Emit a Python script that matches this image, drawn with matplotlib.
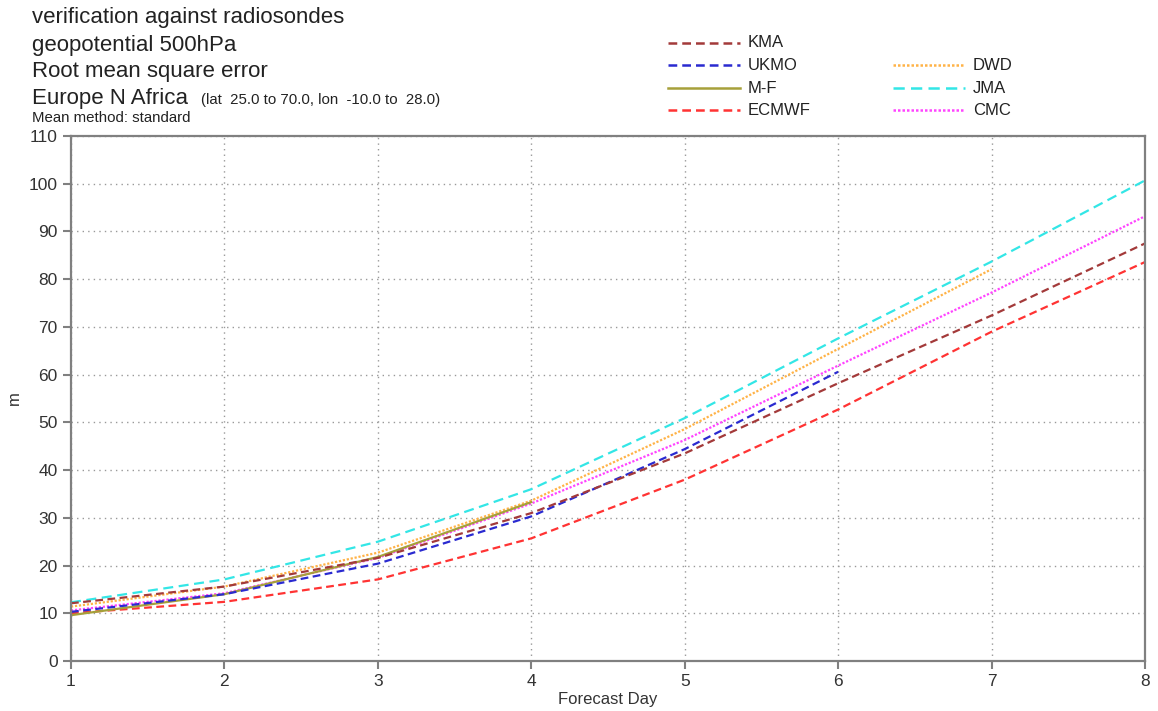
import matplotlib
matplotlib.use('Agg')
import matplotlib.pyplot as plt
from matplotlib.lines import Line2D

# forecast days
days = [1, 2, 3, 4, 5, 6, 7, 8]

# RMSE of 500hPa geopotential (m)
kma = [12.1, 15.6, 21.6, 31.0, 43.5, 58.2, 72.4, 87.5]
ukmo = [10.3, 14.0, 20.4, 30.3, 44.4, 60.6]
mf = [9.6, 14.0, 21.8, 33.3]
ecmwf = [10.0, 12.4, 17.1, 25.7, 38.0, 52.7, 69.0, 83.6]
dwd = [11.4, 15.6, 22.7, 33.6, 48.6, 65.4, 82.1]
jma = [12.3, 17.1, 25.0, 36.0, 50.9, 67.6, 83.7, 100.7]
cmc = [10.6, 14.2, 21.6, 33.0, 46.3, 61.9, 77.2, 93.2]

series = [
    ('KMA', kma, '#a33a3a', (0, (3.5, 2))),
    ('UKMO', ukmo, '#2a2ad0', (0, (3.5, 2))),
    ('M-F', mf, '#a6a03a', '-'),
    ('ECMWF', ecmwf, '#ff3333', (0, (3.5, 2))),
    ('DWD', dwd, '#ffb347', (0, (1, 0.8))),
    ('JMA', jma, '#33e6e6', (0, (4.5, 2.5))),
    ('CMC', cmc, '#ff44ff', (0, (1, 0.8))),
]

plt.rcParams.update({
    'font.family': ['Liberation Sans', 'DejaVu Sans'],
    'font.size': 12,
})

fig = plt.figure(figsize=(11.58, 7.11), dpi=100)
ax = fig.add_axes([0.0613, 0.0703, 0.9275, 0.7384])

# draw in reverse so that KMA ends up on top like the reference
for name, vals, col, ls in reversed(series):
    ax.plot(days[:len(vals)], vals, color=col, linestyle=ls, linewidth=1.6, label=name)

ax.set_xlim(1, 8)
ax.set_ylim(0, 110)
ax.set_xticks(days)
ax.set_yticks(range(0, 111, 10))
ax.grid(True, color='#999999', linestyle=(0, (1, 3)), linewidth=1.0)
ax.tick_params(direction='out', length=6, width=1.5, color='#808080', labelsize=12.5, labelcolor='#333333')
for sp in ax.spines.values():
    sp.set_color('#808080')
    sp.set_linewidth(1.6)
ax.set_xlabel('Forecast Day', fontsize=12, color='#333333', labelpad=2)
ax.set_ylabel('m', fontsize=12, color='#333333')
ax.yaxis.set_label_coords(-0.046, 0.5)

# header text
fig.text(0.028, 0.976, 'verification against radiosondes', fontsize=16, va='center', color='#222222')
fig.text(0.028, 0.936, 'geopotential 500hPa', fontsize=16, va='center', color='#222222')
fig.text(0.028, 0.900, 'Root mean square error', fontsize=16, va='center', color='#222222')
fig.text(0.028, 0.862, 'Europe N Africa', fontsize=16, va='center', color='#222222')
fig.text(0.174, 0.859, '(lat  25.0 to 70.0, lon  -10.0 to  28.0)', fontsize=10.8, va='center', color='#222222')
fig.text(0.028, 0.834, 'Mean method: standard', fontsize=10.8, va='center', color='#222222')

# legend, two columns (second one starts on the second row)
row_y = [0.940, 0.908, 0.876, 0.845]
slots = [(0, 0), (0, 1), (0, 2), (0, 3), (1, 1), (1, 2), (1, 3)]
col_x = [0.577, 0.771]
for (name, vals, col, ls), (c, r) in zip(series, slots):
    x0 = col_x[c]
    fig.add_artist(Line2D([x0, x0 + 0.062], [row_y[r], row_y[r]], transform=fig.transFigure,
                          color=col, linestyle=ls, linewidth=1.8))
    fig.text(x0 + 0.069, row_y[r], name, fontsize=12, va='center', color='#222222')

fig.savefig('out.png', dpi=100)
